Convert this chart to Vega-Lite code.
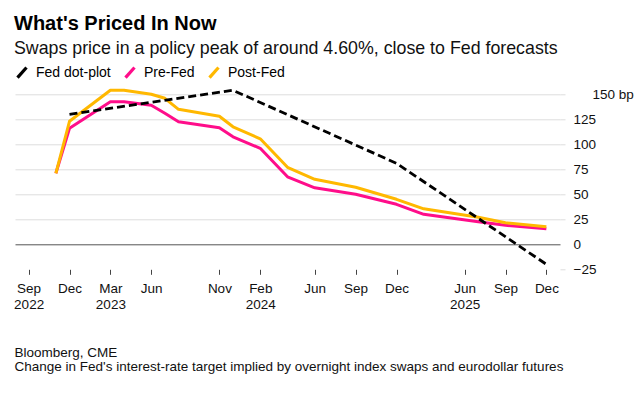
{
  "$schema": "https://vega.github.io/schema/vega-lite/v6.json",
  "width": 545,
  "height": 175,
  "autosize": {"type": "none"},
  "padding": {"left": 15, "top": 94.3, "right": 84, "bottom": 124.7},
  "background": "white",
  "config": {
    "font": "Liberation Sans",
    "view": {"stroke": null},
    "axis": {"labelFont": "Liberation Sans", "titleFont": "Liberation Sans"},
    "legend": {"labelFont": "Liberation Sans"}
  },
  "title": {
    "text": "What's Priced In Now",
    "subtitle": "Swaps price in a policy peak of around 4.60%, close to Fed forecasts",
    "anchor": "start",
    "frame": "group",
    "orient": "top",
    "dx": -1,
    "offset": 7,
    "fontSize": 20,
    "fontWeight": "bold",
    "color": "#000000",
    "subtitleFontSize": 17.8,
    "subtitleColor": "#111111",
    "subtitlePadding": 6
  },
  "data": {
    "values": [
      {"series": "Fed dot-plot", "month": "2022-12", "value": 130},
      {"series": "Fed dot-plot", "month": "2023-12", "value": 154},
      {"series": "Fed dot-plot", "month": "2024-12", "value": 81},
      {"series": "Fed dot-plot", "month": "2025-12", "value": -20},
      {"series": "Pre-Fed", "month": "2022-11", "value": 71},
      {"series": "Pre-Fed", "month": "2022-12", "value": 116},
      {"series": "Pre-Fed", "month": "2023-03", "value": 142.5},
      {"series": "Pre-Fed", "month": "2023-04", "value": 142.5},
      {"series": "Pre-Fed", "month": "2023-06", "value": 139},
      {"series": "Pre-Fed", "month": "2023-07", "value": 131},
      {"series": "Pre-Fed", "month": "2023-08", "value": 122.5},
      {"series": "Pre-Fed", "month": "2023-11", "value": 116.5},
      {"series": "Pre-Fed", "month": "2023-12", "value": 107.5},
      {"series": "Pre-Fed", "month": "2024-02", "value": 96},
      {"series": "Pre-Fed", "month": "2024-04", "value": 67.5},
      {"series": "Pre-Fed", "month": "2024-06", "value": 56.5},
      {"series": "Pre-Fed", "month": "2024-09", "value": 50},
      {"series": "Pre-Fed", "month": "2024-12", "value": 40},
      {"series": "Pre-Fed", "month": "2025-03", "value": 30},
      {"series": "Pre-Fed", "month": "2025-07", "value": 22.5},
      {"series": "Pre-Fed", "month": "2025-09", "value": 19},
      {"series": "Pre-Fed", "month": "2025-12", "value": 15.5},
      {"series": "Post-Fed", "month": "2022-11", "value": 71},
      {"series": "Post-Fed", "month": "2022-12", "value": 123},
      {"series": "Post-Fed", "month": "2023-03", "value": 154},
      {"series": "Post-Fed", "month": "2023-04", "value": 154},
      {"series": "Post-Fed", "month": "2023-06", "value": 150},
      {"series": "Post-Fed", "month": "2023-07", "value": 146},
      {"series": "Post-Fed", "month": "2023-08", "value": 135},
      {"series": "Post-Fed", "month": "2023-11", "value": 128},
      {"series": "Post-Fed", "month": "2023-12", "value": 117.5},
      {"series": "Post-Fed", "month": "2024-02", "value": 105.5},
      {"series": "Post-Fed", "month": "2024-04", "value": 77},
      {"series": "Post-Fed", "month": "2024-06", "value": 65},
      {"series": "Post-Fed", "month": "2024-09", "value": 57},
      {"series": "Post-Fed", "month": "2024-12", "value": 45},
      {"series": "Post-Fed", "month": "2025-03", "value": 35.5},
      {"series": "Post-Fed", "month": "2025-07", "value": 27},
      {"series": "Post-Fed", "month": "2025-09", "value": 21.5},
      {"series": "Post-Fed", "month": "2025-12", "value": 17.5}
    ]
  },
  "encoding": {
    "x": {
      "field": "month",
      "type": "ordinal",
      "scale": {
        "type": "point",
        "padding": 1.29,
        "domain": ["2022-09","2022-10","2022-11","2022-12",
                   "2023-01","2023-02","2023-03","2023-04","2023-05","2023-06","2023-07","2023-08","2023-09","2023-10","2023-11","2023-12",
                   "2024-01","2024-02","2024-03","2024-04","2024-05","2024-06","2024-07","2024-08","2024-09","2024-10","2024-11","2024-12",
                   "2025-01","2025-03","2025-04","2025-05","2025-06","2025-07","2025-08","2025-09","2025-10","2025-11","2025-12"]
      },
      "axis": {
        "values": ["2022-09","2022-12","2023-03","2023-06","2023-11","2024-02","2024-06","2024-09","2024-12","2025-06","2025-09","2025-12"],
        "labelExpr": "datum.value == '2022-09' ? ['Sep', '2022'] : datum.value == '2023-03' ? ['Mar', '2023'] : datum.value == '2024-02' ? ['Feb', '2024'] : datum.value == '2025-06' ? ['Jun', '2025'] : ['Jan','Feb','Mar','Apr','May','Jun','Jul','Aug','Sep','Oct','Nov','Dec'][toNumber(slice(datum.value, 5)) - 1]",
        "labelAngle": 0,
        "labelFontSize": 13.5,
        "labelColor": "#111111",
        "labelLineHeight": 16.5,
        "labelPadding": 7,
        "labelBaseline": "top",
        "domain": false,
        "grid": false,
        "ticks": true,
        "tickSize": 5,
        "tickColor": "#444444",
        "tickWidth": 1,
        "title": ["Bloomberg, CME", "Change in Fed's interest-rate target implied by overnight index swaps and eurodollar futures"],
        "titleFontSize": 13.5,
        "titleFontWeight": "normal",
        "titleColor": "#111111",
        "titleAnchor": "start",
        "titleAlign": "left",
        "titleBaseline": "alphabetic",
        "titleX": -1,
        "titleY": 87,
        "titleLineHeight": 14.5
      }
    },
    "y": {
      "field": "value",
      "type": "quantitative",
      "scale": {"domain": [-25, 150], "nice": false, "zero": false},
      "axis": {
        "orient": "right",
        "values": [-25, 0, 25, 50, 75, 100, 125, 150],
        "labelExpr": "datum.value == 150 ? '150 bp' : datum.label",
        "labelAlign": "left",
        "labelBaseline": "middle",
        "labelFontSize": 13.5,
        "labelColor": "#111111",
        "labelPadding": {"condition": {"test": "datum.value == 150", "value": 27}, "value": 8},
        "domain": false,
        "grid": true,
        "gridColor": {"condition": {"test": "datum.value == 0", "value": "#555555"}, "value": "#dddddd"},
        "gridOpacity": {"condition": {"test": "datum.value == -25", "value": 0}, "value": 1},
        "gridWidth": 1,
        "ticks": true,
        "tickSize": 5,
        "tickColor": "#dddddd",
        "tickOpacity": {"condition": {"test": "datum.value == 0", "value": 0}, "value": 1},
        "title": null
      }
    },
    "color": {
      "field": "series",
      "type": "nominal",
      "scale": {
        "domain": ["Fed dot-plot", "Pre-Fed", "Post-Fed"],
        "range": ["#000000", "#ff0d8a", "#ffb800"]
      },
      "legend": {
        "orient": "none",
        "direction": "horizontal",
        "legendX": -1,
        "legendY": -30,
        "title": null,
        "symbolType": "M -0.75 0.85 L 0.75 -0.85",
        "symbolSize": 144,
        "symbolStrokeWidth": 3.2,
        "labelFontSize": 14,
        "labelColor": "#000000",
        "labelOffset": 6,
        "columnPadding": 8
      }
    }
  },
  "layer": [
    {
      "transform": [{"filter": "datum.series == 'Pre-Fed'"}],
      "mark": {"type": "line", "strokeWidth": 3, "strokeJoin": "round"}
    },
    {
      "transform": [{"filter": "datum.series == 'Post-Fed'"}],
      "mark": {"type": "line", "strokeWidth": 3, "strokeJoin": "round"}
    },
    {
      "transform": [{"filter": "datum.series == 'Fed dot-plot'"}],
      "mark": {"type": "line", "strokeWidth": 2.8, "strokeDash": [8, 4]}
    }
  ]
}
